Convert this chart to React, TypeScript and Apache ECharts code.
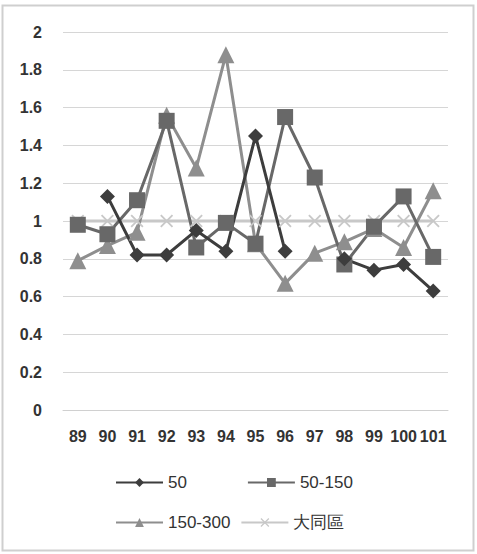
import React, { useEffect, useRef } from "react";
import * as echarts from "echarts";

const categories = ["89", "90", "91", "92", "93", "94", "95", "96", "97", "98", "99", "100", "101"];
const s50 = [null, 1.13, 0.82, 0.82, 0.95, 0.84, 1.45, 0.84, null, 0.8, 0.74, 0.77, 0.63];
const s50_150 = [0.98, 0.93, 1.11, 1.53, 0.86, 0.99, 0.88, 1.55, 1.23, 0.77, 0.97, 1.13, 0.81];
const s150_300 = [0.79, 0.87, 0.94, 1.56, 1.28, 1.88, 0.88, 0.67, 0.83, 0.89, 0.96, 0.86, 1.16];
const sDatong = [1, 1, 1, 1, 1, 1, 1, 1, 1, 1, 1, 1, 1];
const seriesNames = ["50", "50-150", "150-300", "大同區"];

const crossPath =
  "path://M0,1 L1,0 L5,4 L9,0 L10,1 L6,5 L10,9 L9,10 L5,6 L1,10 L0,9 L4,5 Z";

export default function App() {
  const ref = useRef<HTMLDivElement>(null);
  useEffect(() => {
    if (!ref.current) return;
    const chart = echarts.init(ref.current, undefined, { renderer: "svg" });
    const font = "'Liberation Sans', Arial, sans-serif";
    const mk = (name: string, data: any[], color: string, symbol: string, size: number) => ({
      name,
      type: "line",
      data,
      symbol,
      symbolSize: size,
      connectNulls: false,
      lineStyle: { color, width: 3 },
      itemStyle: { color },
      emphasis: { disabled: true },
    });
    chart.setOption({
      animation: false,
      backgroundColor: "#ffffff",
      textStyle: { fontFamily: font },
      grid: { left: 63, right: 29, top: 32, bottom: 144, containLabel: false },
      xAxis: {
        type: "category",
        data: categories,
        boundaryGap: true,
        axisLine: { show: true, lineStyle: { color: "#d0d0d0", width: 1 } },
        axisTick: { show: false },
        axisLabel: { color: "#333", fontSize: 16, margin: 18, interval: 0, fontWeight: "bold" },
      },
      yAxis: {
        type: "value",
        min: 0,
        max: 2,
        interval: 0.2,
        axisLine: { show: false },
        axisTick: { show: false },
        splitLine: { lineStyle: { color: "#d6d6d6", width: 1 } },
        axisLabel: {
          color: "#333",
          fontSize: 16,
          margin: 21,
          fontWeight: "bold",
          formatter: (v: number) => String(Math.round(v * 10) / 10),
        },
      },
      legend: [
        {
          data: [seriesNames[0], seriesNames[1]],
          left: 115,
          top: 474,
          padding: 0,
          itemWidth: 47,
          itemHeight: 11,
          itemGap: 60,
          textStyle: { fontSize: 17, color: "#333" },
        },
        {
          data: [seriesNames[2], seriesNames[3]],
          left: 115,
          top: 514,
          padding: 0,
          itemWidth: 47,
          itemHeight: 11,
          itemGap: 10,
          textStyle: { fontSize: 17, color: "#333" },
        },
      ],
      graphic: [
        {
          type: "rect",
          shape: { x: 2.5, y: 5.5, width: 471, height: 545 },
          style: { fill: "none", stroke: "#cfcfcf", lineWidth: 2 },
          silent: true,
        },
      ],
      series: [
        mk(seriesNames[3], sDatong, "#c8c8c8", crossPath, 13),
        mk(seriesNames[2], s150_300, "#8e8e8e", "triangle", 17),
        mk(seriesNames[1], s50_150, "#686868", "rect", 16),
        mk(seriesNames[0], s50, "#3d3d3d", "diamond", 15),
      ],
    });
    return () => chart.dispose();
  }, []);
  return (
    <div
      ref={ref}
      style={{ position: "fixed", left: 0, top: 0, width: 477, height: 554 }}
    />
  );
}
